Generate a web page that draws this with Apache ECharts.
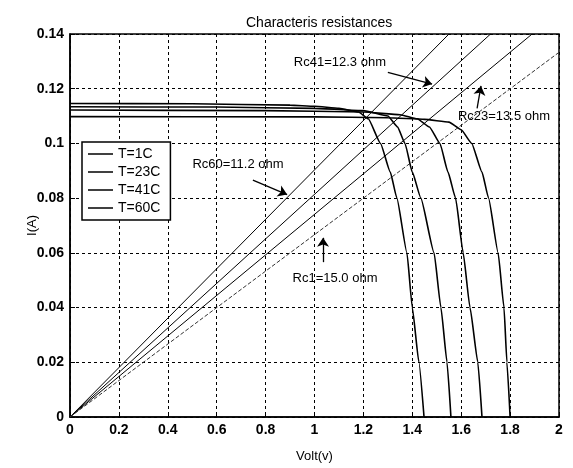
<!DOCTYPE html>
<html>
<head>
<meta charset="utf-8">
<script src="https://cdn.jsdelivr.net/npm/echarts@6/dist/echarts.min.js"></script>
<style>html,body{margin:0;padding:0;background:#fff;}#c{width:573px;height:468px;}</style>
</head>
<body>
<div id="c"></div>
<script>
// ---- data ----
const xTicks = [0, 0.2, 0.4, 0.6, 0.8, 1, 1.2, 1.4, 1.6, 1.8, 2];
const yTicks = [0, 0.02, 0.04, 0.06, 0.08, 0.1, 0.12, 0.14];
const legendNames = ['T=1C', 'T=23C', 'T=41C', 'T=60C'];

const curveT1 = [[0,0.1098],[1.0,0.1097],[1.3,0.1094],[1.45,0.1088],[1.55,0.1078],[1.6,0.105],[1.643,0.100],[1.685,0.0895],[1.712,0.080],[1.751,0.060],[1.775,0.040],[1.787,0.020],[1.80,0]];
const curveT23 = [[0,0.1122],[0.8,0.1120],[1.2,0.1115],[1.35,0.1105],[1.42,0.109],[1.47,0.106],[1.513,0.100],[1.546,0.0895],[1.577,0.080],[1.608,0.060],[1.636,0.040],[1.668,0.020],[1.685,0]];
const curveT41 = [[0,0.1134],[0.6,0.1133],[1.0,0.1128],[1.2,0.1120],[1.3,0.1100],[1.34,0.106],[1.37,0.100],[1.40,0.0895],[1.435,0.080],[1.489,0.060],[1.517,0.040],[1.542,0.020],[1.558,0]];
const curveT60 = [[0,0.1146],[0.5,0.1145],[0.9,0.1140],[1.0,0.1136],[1.1,0.1128],[1.18,0.1115],[1.22,0.109],[1.27,0.100],[1.31,0.0895],[1.337,0.080],[1.378,0.060],[1.40,0.040],[1.427,0.020],[1.448,0]];

const lineRc60 = [[0,0],[1.55,0.14]];
const lineRc41 = [[0,0],[1.72,0.14]];
const lineRc23 = [[0,0],[1.89,0.14]];
const lineRc1  = [[0,0],[2.0,0.1333]];

const labelTexts = ['Rc41=12.3 ohm', 'Rc23=13.5 ohm', 'Rc60=11.2 ohm', 'Rc1=15.0 ohm'];
const labelPos = [[1.104,0.1296],[1.775,0.1099],[0.687,0.0924],[1.084,0.0505]];
const arrowFrom = [[1.30,0.1260],[1.665,0.1128],[0.748,0.0866],[1.035,0.0566]];
const arrowTo   = [[1.481,0.1217],[1.681,0.1210],[0.888,0.0813],[1.035,0.0655]];

// ---- chart ----
const FONT = '"Liberation Sans", Arial, sans-serif';
const chart = echarts.init(document.getElementById('c'), null, {renderer: 'canvas'});

function curveSeries(name, data) {
  return {
    name: name, type: 'line', data: data, showSymbol: false, symbol: 'none',
    smooth: 0.15, smoothMonotone: 'x',
    lineStyle: {color: '#000', width: 1.6}, itemStyle: {color: '#000'}, z: 3
  };
}
function rcSeries(name, data, dashed) {
  return {
    name: name, type: 'line', data: data, showSymbol: false, symbol: 'none',
    lineStyle: {color: dashed ? '#333' : '#000', width: 1, type: dashed ? [4, 2] : 'solid'},
    itemStyle: {color: '#000'}, z: 2
  };
}

const annotSeries = {
  type: 'line', name: 'annot', data: [], silent: true,
  itemStyle: {color: '#000'},
  markPoint: {
    symbol: 'circle', symbolSize: 0,
    label: {show: true, position: 'inside', color: '#000', fontFamily: FONT, fontSize: 13,
            formatter: p => p.name},
    data: labelTexts.map((t, i) => ({name: t, coord: labelPos[i]}))
  },
  markLine: {
    silent: true, symbol: ['none', 'arrow'], symbolSize: 9,
    label: {show: false},
    itemStyle: {color: '#000'},
    lineStyle: {color: '#000', width: 1.3, type: 'solid'},
    data: arrowFrom.map((f, i) => [{coord: f}, {coord: arrowTo[i]}])
  }
};

const option = {
  animation: false,
  backgroundColor: '#fff',
  title: {
    text: 'Characteris resistances', left: 241, top: 11,
    textStyle: {fontFamily: FONT, fontSize: 14, fontWeight: 'normal', color: '#000'}
  },
  legend: {
    data: legendNames, orient: 'vertical', left: 82, top: 142,
    width: 98, icon: 'rect', itemWidth: 25, itemHeight: 1.5, itemGap: 4,
    padding: [5, 10, 5, 6],
    backgroundColor: '#fff', borderColor: '#000', borderWidth: 1.5,
    textStyle: {fontFamily: FONT, fontSize: 14, color: '#000'}
  },
  grid: {left: 70, right: 14, top: 34, bottom: 43, show: true, borderColor: '#000', borderWidth: 1.5},
  xAxis: {
    type: 'value', min: xTicks[0], max: xTicks[xTicks.length - 1], interval: 0.2,
    name: 'Volt(v)', nameLocation: 'middle', nameGap: 33, nameMoveOverlap: false,
    nameTextStyle: {fontFamily: FONT, fontSize: 13, color: '#000'},
    axisLine: {show: true, lineStyle: {color: '#000', width: 1.5}},
    axisTick: {show: true, inside: true, length: 5, lineStyle: {color: '#000'}},
    axisLabel: {fontFamily: FONT, fontSize: 14, fontWeight: 'bold', color: '#000', margin: 6},
    splitLine: {show: true, lineStyle: {color: '#000', width: 1, type: [3, 3]}}
  },
  yAxis: {
    type: 'value', min: yTicks[0], max: yTicks[yTicks.length - 1], interval: 0.02,
    name: 'I(A)', nameLocation: 'middle', nameGap: 31, nameMoveOverlap: false,
    nameTextStyle: {fontFamily: FONT, fontSize: 13, color: '#000'},
    axisLine: {show: true, lineStyle: {color: '#000', width: 1.5}},
    axisTick: {show: true, inside: true, length: 5, lineStyle: {color: '#000'}},
    axisLabel: {fontFamily: FONT, fontSize: 14, fontWeight: 'bold', color: '#000', margin: 6},
    splitLine: {show: true, lineStyle: {color: '#000', width: 1, type: [3, 3]}}
  },
  series: [
    curveSeries('T=1C', curveT1),
    curveSeries('T=23C', curveT23),
    curveSeries('T=41C', curveT41),
    curveSeries('T=60C', curveT60),
    rcSeries('Rc60', lineRc60, false),
    rcSeries('Rc41', lineRc41, false),
    rcSeries('Rc23', lineRc23, false),
    rcSeries('Rc1', lineRc1, true),
    annotSeries
  ]
};
chart.setOption(option);
</script>
</body>
</html>
